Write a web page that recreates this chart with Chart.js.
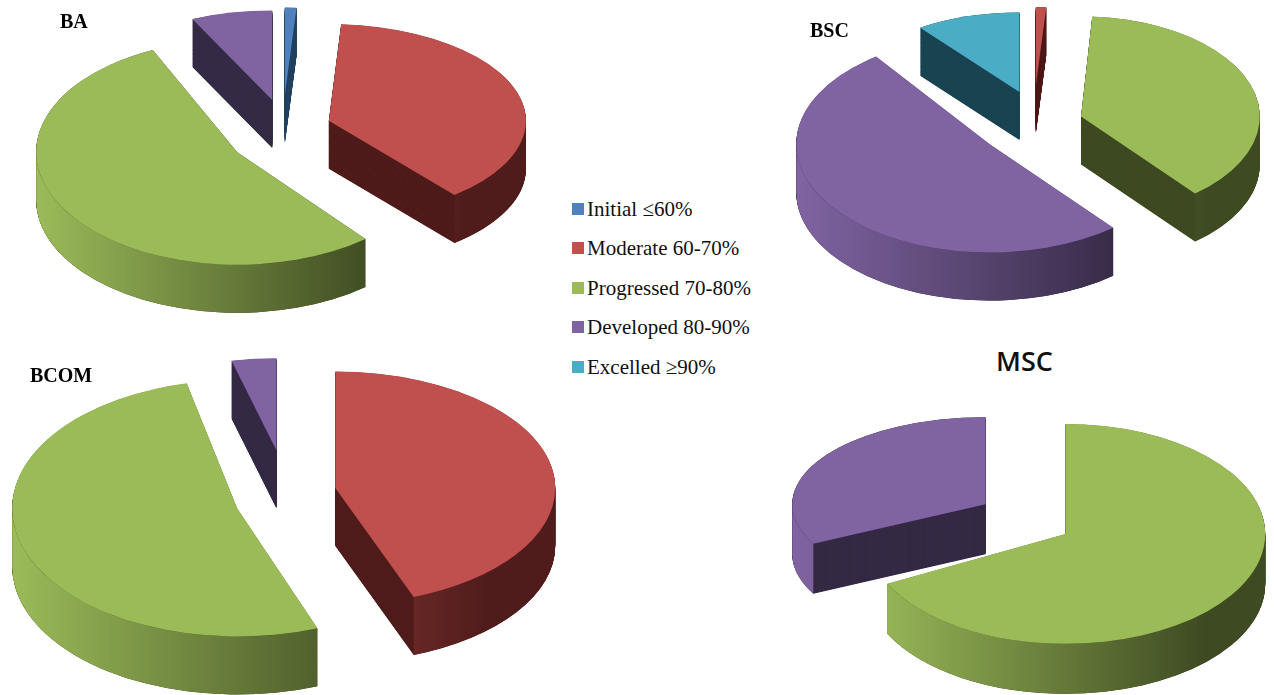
<!DOCTYPE html>
<html>
<head>
<meta charset="utf-8">
<title>Attainment by programme</title>
<script src="https://cdn.jsdelivr.net/npm/chart.js@4/dist/chart.umd.js"></script>
<style>
  html, body { margin: 0; background: #fff; width: 1274px; height: 695px; overflow: hidden; }
  body { filter: blur(0.5px); }
  canvas { position: absolute; }
  .name { position: absolute; font: bold 20px "Liberation Serif", serif; color: #000; white-space: nowrap; }
  .name.msc { font: 600 27px "Open Sans", sans-serif; color: #111; }
  #legend div { position: absolute; left: 587px; font: 21px "Liberation Serif", serif; color: #111; white-space: nowrap; }
  #legend i { position: absolute; left: -15px; top: 6px; width: 12px; height: 12px; }
</style>
</head>
<body>
<div id="legend"></div>
<script>
// Values, percent of students in each band
const categories = ['Initial ≤60%', 'Moderate 60-70%', 'Progressed 70-80%', 'Developed 80-90%', 'Excelled ≥90%'];
const baValues = [1, 38, 54.1, 6.9, 0];
const bscValues = [0, 1, 38, 51, 10];
const bcomValues = [0, 44.2, 52.2, 3.6, 0];
const mscValues = [0, 0, 67.5, 32.5, 0];

const topColors = ['#4F81BD', '#C0504D', '#9BBB59', '#8064A2', '#4BACC6'];
const sideColors = ['#24405f', '#4f1c1b', '#3e4a22', '#352a45', '#1b4452'];

const baseRadius = 170;

// box = canvas rectangle on the page, cx/cy = pie centre.
// offsets, sizes, tilts and drops follow categories, the original is in perspective
// so back and front slices don't share one scale.
const pies = [
  { id: 'BA', values: baValues, box: [0, 0, 550, 330], cx: 283, cy: 123, depth: 48,
    offsets: [316, 180, 250, 212, 0], sizes: [0.76, 1.07, 0.865, 0.947, 1],
    tilts: [0.47, 0.49, 0.56, 0.47, 0.5], drops: [0, 5, 13, 0, 0] },
  { id: 'BSC', values: bscValues, box: [780, 0, 1274, 320], cx: 1034, cy: 113, depth: 48,
    offsets: [0, 376, 206, 276, 214], sizes: [1, 0.64, 0.96, 0.81, 0.88],
    tilts: [0.5, 0.47, 0.56, 0.56, 0.47], drops: [0, 0, 12, 12, 0] },
  { id: 'BCOM', values: bcomValues, box: [0, 340, 570, 695], cx: 285, cy: 485, depth: 58,
    offsets: [0, 186, 194, 366, 0], sizes: [1, 1.1, 1.03, 0.83, 1],
    tilts: [0.5, 0.53, 0.57, 0.46, 0.5], drops: [0, 8, 15, 0, 0] },
  { id: 'MSC', values: mscValues, box: [780, 400, 1274, 695], cx: 1021, cy: 507, depth: 50,
    offsets: [0, 0, 239, 150, 0], sizes: [1, 1, 0.87, 1.11, 1],
    tilts: [0.5, 0.5, 0.55, 0.45, 0.5], drops: [0, 0, 12, 7, 0] }
];

const names = [
  { text: 'BA', x: 60, y: 10 },
  { text: 'BSC', x: 810, y: 19 },
  { text: 'BCOM', x: 30, y: 364 },
  { text: 'MSC', x: 996, y: 342, cls: 'msc' }
];

const legendRows = [197, 236, 276, 315, 355];

// Squashes each slice and draws it with an extruded side, angles come from the arc elements
const tiltedPie = {
  id: 'tiltedPie',
  beforeDatasetsDraw(chart, args, opts) {
    const ctx = chart.ctx;
    const arcs = chart.getDatasetMeta(0).data;
    const order = arcs.map((a, i) => i)
      .filter(i => arcs[i].circumference > 0)
      .sort((a, b) => midSin(arcs[a]) - midSin(arcs[b]));

    order.forEach(i => {
      const arc = arcs[i];
      const sx = opts.sizes[i];
      const sy = sx * opts.tilts[i];
      ctx.save();
      ctx.translate(arc.x, arc.y + opts.drops[i]);
      ctx.scale(sx, sy);
      ctx.translate(-arc.x, -arc.y);
      drawSlice(ctx, arc, sideColors[i], topColors[i], opts.depth / sy);
      ctx.restore();
    });
    return false;
  }
};

function midSin(arc) {
  return Math.sin((arc.startAngle + arc.endAngle) / 2);
}

function sector(ctx, arc, x, y, r) {
  ctx.beginPath();
  ctx.moveTo(x, y);
  ctx.arc(x, y, r, arc.startAngle, arc.endAngle);
  ctx.closePath();
  ctx.fill();
}

function drawSlice(ctx, arc, dark, light, depth) {
  // same shift and growth that ArcElement applies for its offset option
  const off = (arc.options.offset || 0) / 4;
  const fix = 1 - Math.sin(Math.min(Math.PI, arc.circumference));
  const mid = (arc.startAngle + arc.endAngle) / 2;
  const x = arc.x + Math.cos(mid) * off;
  const y = arc.y + Math.sin(mid) * off;
  const r = arc.outerRadius + off * fix;

  ctx.fillStyle = dark;
  for (let d = depth; d > 0; d -= 1) {
    sector(ctx, arc, x, y + d, r);
  }

  const a1 = Math.max(arc.startAngle, 0);
  const a2 = Math.min(arc.endAngle, Math.PI);
  if (a1 < a2) {
    const wall = ctx.createLinearGradient(x - r, 0, x + r, 0);
    wall.addColorStop(0, light);
    wall.addColorStop(0.85, dark);
    wall.addColorStop(1, dark);
    ctx.fillStyle = wall;
    ctx.beginPath();
    ctx.arc(x, y + depth, r, a1, a2);
    ctx.arc(x, y, r, a2, a1, true);
    ctx.closePath();
    ctx.fill();
  }

  ctx.fillStyle = light;
  sector(ctx, arc, x, y, r);
}

pies.forEach(pie => {
  const [l, t, r, b] = pie.box;
  const canvas = document.createElement('canvas');
  canvas.width = r - l;
  canvas.height = b - t;
  canvas.style.left = l + 'px';
  canvas.style.top = t + 'px';
  document.body.appendChild(canvas);

  new Chart(canvas, {
    type: 'pie',
    data: {
      labels: categories,
      datasets: [{
        data: pie.values,
        backgroundColor: topColors,
        borderWidth: 0,
        offset: pie.offsets
      }]
    },
    options: {
      responsive: false,
      animation: false,
      radius: baseRadius,
      cutout: '0%', // big offsets leave no room, a plain 0 turns into NaN
      layout: {
        padding: {
          left: Math.max(0, (pie.cx - l) - (r - pie.cx)),
          right: Math.max(0, (r - pie.cx) - (pie.cx - l)),
          top: Math.max(0, (pie.cy - t) - (b - pie.cy)),
          bottom: Math.max(0, (b - pie.cy) - (pie.cy - t))
        }
      },
      plugins: {
        legend: { display: false },
        tooltip: { enabled: false },
        tiltedPie: { sizes: pie.sizes, tilts: pie.tilts, drops: pie.drops, depth: pie.depth }
      }
    },
    plugins: [tiltedPie]
  });
});

names.forEach(n => {
  const el = document.createElement('div');
  el.className = 'name ' + (n.cls || '');
  el.textContent = n.text;
  el.style.left = n.x + 'px';
  el.style.top = n.y + 'px';
  document.body.appendChild(el);
});

const legend = document.getElementById('legend');
categories.forEach((c, i) => {
  const row = document.createElement('div');
  row.style.top = legendRows[i] + 'px';
  row.innerHTML = '<i style="background:' + topColors[i] + '"></i>' + c;
  legend.appendChild(row);
});
</script>
</body>
</html>
